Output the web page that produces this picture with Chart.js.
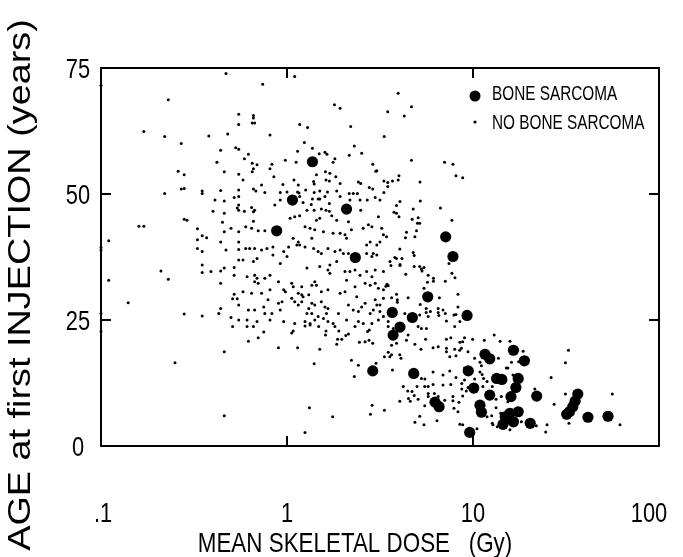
<!DOCTYPE html>
<html>
<head>
<meta charset="utf-8">
<script src="https://cdn.jsdelivr.net/npm/chart.js@4.4.0/dist/chart.umd.min.js"></script>
<style>
  html, body { margin: 0; padding: 0; background: #fff; }
</style>
</head>
<body>
<canvas id="chart" width="683" height="557"></canvas>
<script>
// tick values / labels
const xTicks = [0.1, 1, 10, 100];
const xTickLabels = ['.1', '1', '10', '100'];
const yTicks = [0, 25, 50, 75];

// [mean skeletal dose (Gy), age at first injection (years)]
const boneSarcoma = [
  [0.88, 42.7], [1.07, 48.8], [1.37, 56.4], [2.09, 47.0], [2.33, 37.4],
  [7.13, 41.5], [7.8, 37.6], [5.71, 29.6], [3.68, 26.5], [4.72, 25.5],
  [9.29, 25.9], [4.05, 23.6], [3.72, 22.0], [2.89, 14.9], [4.8, 14.4],
  [6.25, 8.7], [6.57, 7.8], [9.43, 14.9], [11.6, 18.2], [12.3, 17.3],
  [16.5, 19.0], [18.9, 16.9], [13.4, 13.4], [14.3, 13.2], [17.5, 13.4],
  [17.0, 11.6], [10.1, 11.5], [16.0, 9.8], [12.3, 10.1], [10.9, 8.1],
  [11.1, 6.7], [14.9, 5.8], [15.8, 6.5], [17.5, 6.8], [16.5, 4.8],
  [14.5, 4.3], [9.6, 2.7], [20.3, 4.5], [22.0, 9.9], [36.6, 10.3],
  [35.4, 8.9], [34.4, 7.8], [33.0, 6.8], [31.9, 6.3], [41.5, 5.7],
  [53.2, 5.9]
];

const noBoneSarcoma = [
  // older ages, low dose
  [0.47, 73.9], [0.1, 71.6], [0.23, 68.7], [0.17, 62.4], [0.22, 61.4], [0.27, 60.0],
  [0.38, 61.5], [0.48, 61.9], [0.44, 58.7], [0.53, 59.2], [0.55, 58.9], [0.55, 65.8],
  [0.55, 63.8], [0.42, 56.3], [0.46, 54.4], [0.26, 54.5], [0.28, 53.8], [0.55, 53.9],
  [0.22, 50.1], [0.27, 51.0], [0.28, 51.1], [0.35, 50.6], [0.35, 50.1], [0.44, 50.7],
  [0.55, 50.8],
  [1.10, 73.3], [0.74, 71.8], [1.80, 67.7], [1.93, 67.0], [0.66, 65.6], [0.66, 65.1],
  [0.65, 64.1], [0.67, 64.1], [1.17, 63.8], [1.29, 63.2], [2.20, 63.4], [0.81, 61.7],
  [3.33, 61.4], [1.24, 60.2], [1.37, 59.1], [2.30, 59.5], [1.14, 58.5], [1.49, 58.0],
  [1.60, 58.3], [1.64, 57.9], [2.16, 57.7], [2.52, 58.1], [0.62, 57.9], [0.59, 57.0],
  [0.98, 56.7], [1.12, 56.3], [1.77, 56.3], [1.81, 57.0], [0.65, 56.1], [0.69, 55.8],
  [0.83, 55.9], [2.89, 55.9], [3.04, 54.6], [3.0, 54.5], [0.81, 55.0], [0.65, 54.4],
  [0.66, 55.0], [0.85, 53.4], [0.58, 52.8], [1.61, 54.4], [1.70, 54.1], [1.62, 52.8],
  [1.69, 52.6], [1.83, 53.4], [1.44, 53.8], [1.09, 52.8], [1.39, 52.5], [1.93, 52.1],
  [2.42, 52.4], [2.49, 52.1], [2.77, 51.3], [2.89, 51.0], [3.32, 52.6], [0.73, 51.8],
  [0.95, 51.9], [1.15, 51.8], [1.40, 52.0], [0.66, 51.0], [0.68, 50.6], [0.76, 50.3],
  [0.92, 50.3], [1.0, 50.4], [1.14, 50.4], [1.16, 50.2], [1.26, 50.8], [1.40, 50.3],
  [1.50, 50.6], [1.65, 50.4], [1.85, 50.6], [2.16, 50.1], [2.27, 50.1], [2.39, 50.1],
  [3.32, 50.3],
  [3.96, 70.0], [3.48, 66.3], [4.27, 65.5], [4.67, 67.3], [4.67, 56.7], [7.03, 56.3],
  [7.8, 55.9], [8.1, 53.6], [8.8, 53.2], [4.0, 53.6], [3.96, 52.8], [3.69, 52.6],
  [3.48, 52.3], [3.48, 51.5], [5.19, 52.4],
  // 25-50 years, low dose
  [0.41, 48.8], [0.46, 48.6], [0.52, 49.3], [0.55, 49.5], [0.40, 46.6], [0.46, 46.2],
  [0.55, 47.8], [0.55, 46.8], [0.54, 47.2], [0.28, 45.0], [0.29, 44.8], [0.16, 43.6],
  [0.17, 43.6], [0.33, 43.1], [0.45, 44.4], [0.50, 43.2], [0.46, 42.5], [0.55, 42.5],
  [0.35, 41.7], [0.37, 41.3], [0.33, 40.9], [0.44, 40.5], [0.55, 40.5], [0.11, 40.7],
  [0.1, 39.4], [0.1, 38.9], [0.33, 39.2], [0.35, 38.6], [0.47, 38.9], [0.55, 39.0],
  [0.55, 36.9], [0.35, 35.9], [0.35, 34.4], [0.39, 34.6], [0.44, 34.7], [0.46, 35.3],
  [0.52, 35.4], [0.52, 33.9], [0.21, 34.7], [0.23, 33.1], [0.11, 32.9], [0.44, 32.3],
  [0.52, 30.1], [0.51, 29.2], [0.54, 29.2], [0.55, 28.0], [0.14, 28.4], [0.44, 27.3],
  [0.43, 26.3], [0.28, 26.2], [0.35, 25.8], [0.50, 25.5], [0.55, 25.0], [0.1, 26.3],
  // dense core, 0.56 - 3.3 Gy
  [1.17, 49.5], [1.37, 49.0], [1.47, 49.0], [1.60, 49.5], [1.93, 49.5], [2.18, 48.8],
  [2.47, 48.8], [2.70, 48.8], [2.98, 49.3], [3.16, 48.8], [1.22, 48.3], [1.50, 49.0],
  [1.35, 47.9], [1.69, 48.1], [0.59, 46.6], [0.645, 47.3], [0.66, 46.5], [0.67, 46.8],
  [0.86, 47.8], [0.92, 48.8], [1.28, 46.8], [1.40, 46.8], [1.53, 47.0], [1.62, 46.8],
  [1.69, 46.6], [2.49, 46.8], [3.10, 45.5], [1.04, 45.2], [1.10, 45.5], [1.17, 45.7],
  [1.44, 44.8], [1.50, 45.2], [1.74, 45.7], [1.85, 44.8], [0.66, 44.6], [2.14, 44.5],
  [0.60, 43.5], [0.645, 43.2], [0.70, 42.7], [0.76, 42.7], [1.25, 43.5], [1.33, 43.2],
  [1.41, 42.9], [1.57, 42.5], [1.77, 42.2], [1.93, 42.2], [2.22, 42.9], [2.05, 41.9],
  [2.09, 41.2], [2.57, 43.2], [2.74, 43.9], [2.86, 43.5], [3.23, 43.2], [3.30, 41.9],
  [1.08, 41.2], [1.15, 40.5], [1.13, 39.9], [1.17, 39.9], [1.25, 39.5], [1.36, 41.2],
  [1.39, 39.2], [1.47, 38.6], [1.53, 38.2], [1.66, 39.2], [1.81, 38.6], [1.93, 38.9],
  [2.01, 38.2], [2.14, 38.2], [2.68, 39.9], [2.80, 40.5], [3.04, 39.9], [3.16, 40.5],
  [2.68, 38.2], [2.86, 37.6], [2.91, 38.2], [3.04, 37.9], [0.60, 39.2], [0.63, 39.2],
  [0.67, 39.2], [0.73, 38.9], [0.78, 39.2], [0.84, 39.5], [0.84, 37.9], [0.96, 38.6],
  [1.02, 39.5], [0.69, 37.2], [0.58, 36.9], [0.66, 36.6], [0.92, 36.2], [1.0, 37.6],
  [1.28, 35.3], [1.50, 35.6], [1.70, 35.9], [1.66, 34.9], [1.70, 34.3], [1.85, 36.6],
  [2.05, 34.6], [2.18, 34.6], [2.32, 34.9], [2.68, 34.6], [2.98, 34.9], [3.30, 34.6],
  [0.61, 33.6], [0.67, 33.9], [0.69, 33.3], [0.67, 32.6], [0.70, 32.3], [0.76, 33.3],
  [0.81, 33.9], [0.90, 32.6], [0.96, 31.0], [1.06, 32.3], [1.08, 31.6], [1.20, 31.6],
  [1.36, 31.9], [1.41, 32.6], [1.44, 31.9], [1.53, 30.6], [1.66, 31.0], [1.93, 30.3],
  [2.05, 30.6], [2.09, 32.9], [2.47, 33.9], [2.86, 33.6], [2.32, 31.6], [2.63, 32.3],
  [2.80, 31.9], [2.98, 32.3], [3.10, 31.3], [3.30, 31.0], [0.58, 30.6], [0.645, 30.3],
  [0.73, 30.3], [0.81, 31.0], [0.98, 30.6], [1.15, 30.3], [1.20, 30.0], [1.22, 29.6],
  [1.31, 30.0], [0.79, 29.0], [0.90, 28.3], [0.94, 28.6], [1.06, 29.3], [1.10, 28.6],
  [1.15, 28.0], [1.20, 28.6], [1.31, 27.3], [1.36, 28.3], [1.41, 28.0], [1.53, 28.6],
  [1.60, 27.6], [1.66, 27.3], [2.37, 29.6], [2.63, 28.3], [2.98, 29.0], [3.16, 28.0],
  [3.30, 29.3], [3.04, 28.0], [2.14, 28.0], [2.27, 27.0], [2.42, 26.7], [2.52, 27.6],
  [0.62, 27.0], [0.67, 27.0], [0.75, 27.6], [0.83, 26.3], [0.92, 27.0], [1.28, 26.3],
  [1.36, 26.3], [1.47, 25.7], [1.57, 25.3], [1.63, 26.3], [1.89, 26.3], [2.80, 26.3],
  [2.91, 27.0], [3.16, 26.7], [0.61, 25.0], [0.69, 24.7], [0.76, 26.3], [0.81, 25.0],
  [0.96, 24.7], [1.10, 24.3], [1.25, 24.7], [1.33, 24.3], [1.41, 25.0], [1.66, 24.7],
  [1.77, 24.3], [2.09, 25.0], [2.42, 24.7], [2.57, 24.3], [2.86, 24.3], [3.10, 25.0],
  [3.30, 25.7],
  // 25-50 years, 3.4 - 9 Gy
  [4.05, 48.5], [5.21, 48.6], [3.88, 47.7], [3.76, 46.4], [3.88, 46.2], [4.0, 45.5],
  [4.77, 47.0], [4.71, 45.0], [5.07, 45.3], [5.03, 44.2], [5.17, 44.2], [6.68, 47.2],
  [7.7, 44.8], [4.39, 42.4], [4.33, 41.3], [4.87, 41.5], [4.97, 42.7], [3.43, 41.5],
  [4.04, 39.1], [3.88, 37.2], [3.8, 37.4], [4.15, 37.2], [4.77, 38.4], [4.83, 37.8],
  [3.58, 36.6], [3.62, 35.8], [4.05, 36.0], [4.05, 35.8], [4.83, 35.6], [5.17, 35.6],
  [5.28, 35.1], [5.45, 35.4], [5.32, 34.7], [7.43, 36.2], [4.35, 34.1], [5.74, 33.9],
  [5.69, 32.5], [6.13, 33.3], [6.13, 32.7], [7.7, 34.3], [8.0, 33.4], [7.1, 32.7],
  [3.45, 32.1], [3.40, 31.7], [3.5, 31.8], [5.45, 31.3], [8.3, 30.1], [3.65, 29.4],
  [3.88, 30.1], [3.92, 29.0], [3.92, 28.5], [4.48, 29.4], [6.6, 29.4], [5.2, 28.1],
  [8.3, 27.6], [8.1, 26.1], [4.3, 26.3], [5.6, 27.3], [5.6, 26.5], [5.9, 26.7],
  [6.5, 27.3], [6.5, 26.5], [6.9, 27.0], [7.1, 26.3], [5.17, 26.0], [5.74, 25.7],
  [6.55, 25.9], [7.2, 24.8], [7.9, 26.0], [8.5, 24.7], [3.5, 24.7],
  // under 25 years
  [0.1, 22.7], [0.51, 23.7], [0.46, 18.7], [0.25, 16.5], [0.46, 6.0],
  [0.61, 23.7], [0.66, 23.7], [0.75, 22.6], [0.62, 20.8], [0.70, 21.5], [0.90, 19.5],
  [1.06, 22.4], [1.08, 22.8], [1.25, 23.8], [1.33, 24.0], [1.14, 19.5], [1.48, 23.7],
  [1.62, 22.8], [1.61, 22.0], [1.50, 19.2], [1.81, 23.7], [1.90, 22.8], [1.87, 21.2],
  [1.97, 21.2], [1.85, 20.2], [2.07, 21.9], [2.14, 22.2], [2.32, 23.7], [2.71, 22.7],
  [2.77, 23.0], [2.45, 20.6], [2.63, 20.7], [2.76, 21.0], [2.89, 20.4], [1.40, 16.3],
  [2.22, 17.0], [2.42, 16.0], [3.01, 16.4], [2.30, 13.8], [3.34, 17.7], [1.32, 7.6],
  [1.76, 5.8], [2.87, 8.1], [2.81, 6.3], [3.34, 7.1], [1.25, 2.7],
  [3.50, 23.7], [3.73, 23.3], [4.48, 22.0], [4.39, 21.0], [5.07, 23.7], [5.28, 23.3],
  [5.62, 23.3], [7.97, 23.7], [3.65, 20.0], [3.88, 20.4], [3.65, 18.1], [3.57, 17.7],
  [4.04, 18.1], [4.10, 17.4], [3.69, 15.1], [4.87, 20.2], [5.25, 19.2], [5.56, 21.2],
  [6.1, 19.5], [6.5, 19.7], [7.2, 21.2], [7.6, 21.5], [8.5, 20.6], [8.8, 20.7],
  [9.0, 21.5], [7.2, 19.4], [7.2, 18.7], [7.97, 19.2], [8.48, 19.0], [8.66, 19.4],
  [7.5, 17.7], [8.1, 17.9], [9.4, 18.7], [9.95, 21.2], [11.5, 21.0], [13.0, 22.0],
  [14.0, 20.8], [15.8, 20.8], [10.2, 17.4], [10.9, 16.6], [11.1, 15.9], [12.4, 16.7],
  [13.7, 17.4], [15.1, 15.5], [16.1, 16.6], [17.6, 16.7], [18.6, 18.8], [5.51, 13.3],
  [5.28, 13.4], [6.1, 14.7], [6.9, 14.1], [7.5, 14.9], [8.1, 13.6], [9.0, 15.5],
  [9.2, 14.7], [9.0, 13.1], [10.2, 13.3], [11.2, 14.2], [10.9, 14.7], [11.4, 13.4],
  [12.7, 11.8], [11.9, 12.8], [15.4, 15.5], [16.4, 14.1], [17.1, 14.1], [4.22, 11.8],
  [5.0, 11.8], [4.7, 10.8], [5.5, 11.8], [5.74, 11.8], [6.1, 12.2], [6.9, 12.1],
  [7.6, 12.2], [8.7, 12.4], [9.4, 11.6], [8.7, 11.3], [9.2, 10.9], [9.95, 11.6],
  [10.4, 10.8], [11.3, 11.8], [4.46, 10.9], [4.83, 10.0], [5.07, 9.3], [5.74, 10.4],
  [5.74, 9.8], [6.2, 10.4], [6.5, 9.8], [7.8, 9.8], [7.8, 9.0], [8.8, 9.9],
  [8.4, 8.7], [4.04, 8.9], [4.5, 9.4], [4.6, 8.9], [5.5, 8.0], [5.17, 5.9],
  [4.87, 4.7], [5.45, 4.2], [6.4, 5.0], [7.05, 9.1], [7.9, 7.5], [8.3, 6.8],
  [8.5, 4.3], [8.8, 4.2], [10.5, 3.4], [11.9, 5.8], [12.6, 6.0], [12.7, 4.5],
  [13.3, 7.6], [14.1, 6.5], [13.3, 9.3], [14.2, 9.8], [15.4, 8.8], [12.8, 4.2],
  [13.5, 3.8], [15.8, 3.2], [15.5, 4.8], [17.4, 6.9], [18.2, 4.8], [3.5, 18.6],
  [32.6, 19.0], [31.4, 16.5], [26.3, 13.6], [21.5, 11.3], [31.4, 10.3], [27.3, 8.3],
  [56.1, 10.3], [21.9, 4.0], [25.0, 4.2], [24.6, 2.8], [32.8, 4.5], [61.7, 4.2]
];

const toXY = ([x, y]) => ({ x, y });
const FONT = '"Liberation Sans", Arial, sans-serif';

// text in a narrow plotter-like look: scale glyphs horizontally
function plotText(ctx, text, x, y, size, sx, align, rot) {
  ctx.save();
  ctx.translate(x, y);
  if (rot) ctx.rotate(rot);
  ctx.scale(sx, 1);
  ctx.font = size + 'px ' + FONT;
  ctx.textAlign = align;
  ctx.textBaseline = 'alphabetic';
  ctx.fillStyle = '#000';
  ctx.fillText(text, 0, 0);
  ctx.restore();
}

// frame, inward tick marks on all four sides, tick labels and axis titles
const frameAndAxes = {
  id: 'frameAndAxes',
  afterDatasetsDraw(chart) {
    const { ctx, chartArea: a, scales: { x, y } } = chart;
    const len = 10;
    ctx.save();
    ctx.strokeStyle = '#000';
    ctx.lineWidth = 2;
    ctx.strokeRect(a.left, a.top, a.right - a.left, a.bottom - a.top);
    ctx.beginPath();
    xTicks.forEach(v => {
      const px = x.getPixelForValue(v);
      ctx.moveTo(px, a.bottom); ctx.lineTo(px, a.bottom - len);
      ctx.moveTo(px, a.top); ctx.lineTo(px, a.top + len);
    });
    yTicks.forEach(v => {
      const py = y.getPixelForValue(v);
      ctx.moveTo(a.left, py); ctx.lineTo(a.left + len, py);
      ctx.moveTo(a.right, py); ctx.lineTo(a.right - len, py);
    });
    ctx.stroke();
    ctx.restore();

    xTicks.forEach((v, i) => {
      plotText(ctx, xTickLabels[i], x.getPixelForValue(v) + (i === 0 ? 2 : i === 3 ? -10 : 0),
        a.bottom + 76, 28, 0.78, 'center');
    });
    yTicks.forEach(v => {
      plotText(ctx, String(v), a.left - 23, y.getPixelForValue(v) + 10, 28, 0.78, 'center');
    });
    plotText(ctx, 'MEAN SKELETAL DOSE   (Gy)', (a.left + a.right) / 2 - 25, a.bottom + 106, 28, 0.8, 'center');
    plotText(ctx, 'AGE at first INJECTION (years)', 30, 285, 31, 1.22, 'center', -Math.PI / 2);
  }
};

// legend inside the plot, top right
const insideLegend = {
  id: 'insideLegend',
  afterDraw(chart) {
    const { ctx, chartArea: a } = chart;
    const x0 = a.right - 184;
    chart.data.datasets.forEach((ds, i) => {
      const cy = a.top + 24 + i * 29;
      ctx.save();
      ctx.fillStyle = '#000';
      ctx.beginPath();
      ctx.arc(x0, cy + (i === 0 ? 4 : 1), i === 0 ? 5.5 : 1.6, 0, Math.PI * 2);
      ctx.fill();
      ctx.restore();
      plotText(ctx, ds.label, x0 + 17, cy + 7.5, 21, 0.73, 'left');
    });
  }
};

new Chart(document.getElementById('chart'), {
  type: 'scatter',
  data: {
    datasets: [
      {
        label: 'BONE SARCOMA',
        data: boneSarcoma.map(toXY),
        pointRadius: 5.6,
        pointBackgroundColor: '#000',
        pointBorderWidth: 0,
        clip: false
      },
      {
        label: 'NO BONE SARCOMA',
        data: noBoneSarcoma.map(toXY),
        pointRadius: 1.5,
        pointBackgroundColor: '#000',
        pointBorderWidth: 0,
        clip: false
      }
    ]
  },
  options: {
    responsive: false,
    animation: false,
    devicePixelRatio: 1,
    layout: { padding: { top: 68, right: 24, left: 0, bottom: 0 } },
    plugins: { legend: { display: false }, tooltip: { enabled: false } },
    scales: {
      x: {
        type: 'logarithmic',
        min: 0.1,
        max: 100,
        afterBuildTicks: s => { s.ticks = xTicks.map(v => ({ value: v })); },
        afterFit: s => { s.height = 111; s.paddingLeft = 0; s.paddingRight = 0; },
        grid: { display: false, drawTicks: false },
        border: { display: false },
        ticks: { display: false }
      },
      y: {
        min: 0,
        max: 75,
        afterBuildTicks: s => { s.ticks = yTicks.map(v => ({ value: v })); },
        afterFit: s => { s.width = 101; s.paddingTop = 0; s.paddingBottom = 0; },
        grid: { display: false, drawTicks: false },
        border: { display: false },
        ticks: { display: false }
      }
    }
  },
  plugins: [frameAndAxes, insideLegend]
});
</script>
</body>
</html>
